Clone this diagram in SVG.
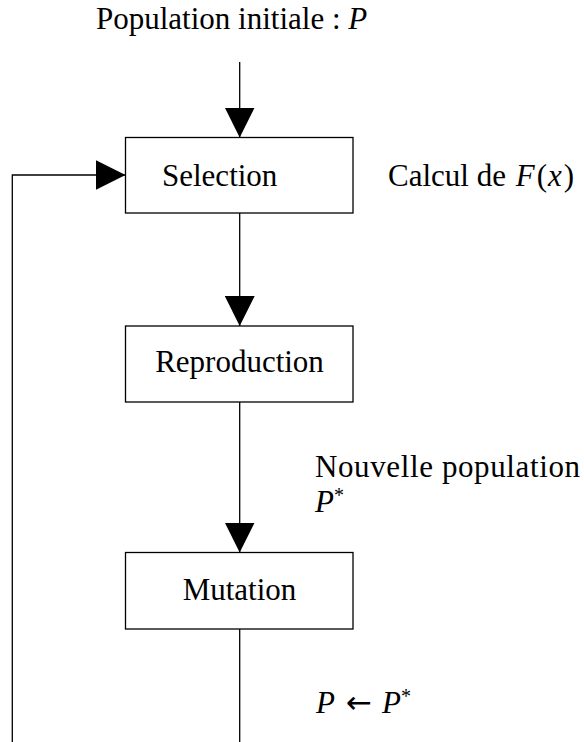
<svg xmlns="http://www.w3.org/2000/svg" width="584" height="742" viewBox="0 0 584 742">
<style>
.box{fill:#fff;stroke:#000;stroke-width:1.3}
.ln{fill:none;stroke:#000;stroke-width:1.3}
text{font-family:"Liberation Serif","Times New Roman",serif;font-size:31px;fill:#000}
.it{font-style:italic}
.sup{font-size:20px}
.arr{font-family:"DejaVu Sans",sans-serif;font-size:31px}
</style>
<defs>
<marker id="ah" markerUnits="userSpaceOnUse" markerWidth="30" markerHeight="30" refX="30" refY="15" orient="auto" viewBox="0 0 30 30">
<path d="M0,0 L30,15 L0,30 Z" fill="#000"/>
</marker>
</defs>
<rect width="584" height="742" fill="#fff"/>
<g id="connectors">
<line class="ln" x1="239.7" y1="62" x2="239.7" y2="137.5" marker-end="url(#ah)"/>
<line class="ln" x1="239.7" y1="213" x2="239.7" y2="326" marker-end="url(#ah)"/>
<line class="ln" x1="239.7" y1="402" x2="239.7" y2="552.5" marker-end="url(#ah)"/>
<polyline class="ln" points="239.7,629 239.7,742"/>
<polyline class="ln" points="12.3,742 12.3,175 125.5,175" marker-end="url(#ah)"/>
</g>
<g id="label-top"><text x="96" y="29">Population initiale : <tspan class="it">P</tspan></text></g>
<g id="selection">
<rect class="box" x="125.5" y="137.5" width="227.5" height="75.5"/>
<text x="162" y="186">Selection</text>
</g>
<g id="label-calcul"><text x="388" y="186">Calcul de <tspan class="it" dx="2">F</tspan><tspan dx="2">(</tspan><tspan class="it" dx="1">x</tspan><tspan dx="2">)</tspan></text></g>
<g id="reproduction">
<rect class="box" x="125.5" y="326" width="227.5" height="76"/>
<text x="239.5" y="372" text-anchor="middle">Reproduction</text>
</g>
<g id="label-nouvelle">
<text x="315" y="477" textLength="265" lengthAdjust="spacing">Nouvelle population</text>
<text x="315" y="512"><tspan class="it">P</tspan><tspan class="sup" dy="-10">*</tspan></text>
</g>
<g id="mutation">
<rect class="box" x="125.5" y="552.5" width="227.5" height="76.5"/>
<text x="239.5" y="600" text-anchor="middle">Mutation</text>
</g>
<g id="label-update"><text y="713"><tspan class="it" x="316">P</tspan><tspan class="arr" x="346">←</tspan><tspan class="it" x="382">P</tspan><tspan class="sup" dy="-10">*</tspan></text></g>
</svg>
